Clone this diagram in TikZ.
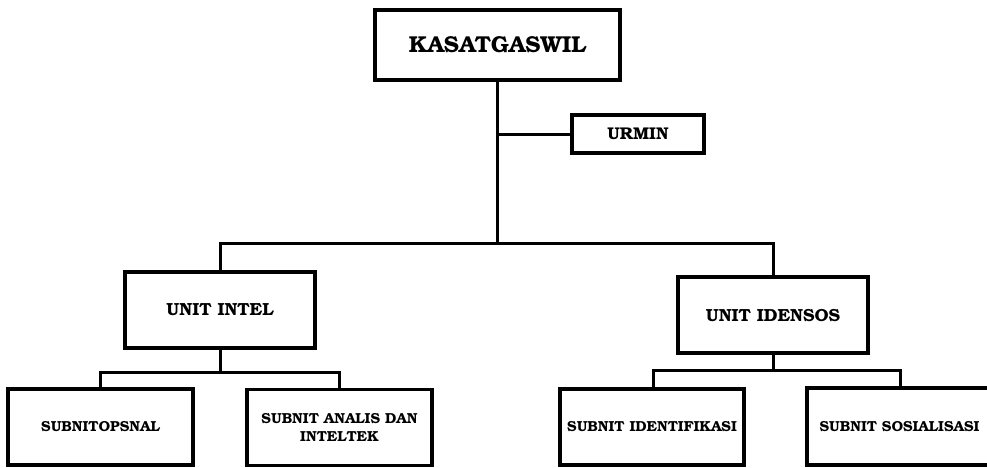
\documentclass[tikz,border=0pt]{standalone}
\usepackage[T1]{fontenc}
\usepackage{bookman}
\usetikzlibrary{shadows}
\begin{document}
\begin{tikzpicture}[x=1pt,y=-1pt,
  box/.style={draw, line width=3.6pt, fill=white, inner sep=0pt, align=center,
    font=\bfseries, drop shadow={opacity=0.25, shadow xshift=1.2pt, shadow yshift=-1.2pt}},
  subbox/.style={box, minimum width=185pt, minimum height=76pt, font=\bfseries\fontsize{14.5}{18}\selectfont},
  unitbox/.style={box, minimum width=190pt, minimum height=76pt, font=\bfseries\fontsize{17.5}{20}\selectfont},
  link/.style={line width=3pt}]
  \useasboundingbox (0,0) rectangle (987,468);
  % head of the task force and its admin unit
  \node[box, minimum width=245pt, minimum height=70pt, font=\bfseries\fontsize{23}{27}\selectfont] (kas) at (497.5,45) {KASATGASWIL};
  \node[box, minimum width=132pt, minimum height=38pt, font=\bfseries\fontsize{17}{20}\selectfont] (urmin) at (638,134) {URMIN};
  % the two units
  \node[unitbox] (intel) at (220,310) {UNIT INTEL};
  \node[unitbox] (idensos) at (773,315) {UNIT IDENSOS};
  % sub-units
  \node[subbox] (opsnal) at (100.5,427) {SUBNITOPSNAL};
  \node[subbox] (analis) at (339.5,427.5) {SUBNIT ANALIS DAN\\INTELTEK};
  \node[subbox, minimum width=184pt] (identif) at (652,427) {SUBNIT IDENTIFIKASI};
  \node[subbox, minimum height=77pt] (sosial) at (899.5,426.5) {SUBNIT SOSIALISASI};
  % connectors
  \coordinate (trunk) at (kas.south |- 0,243);
  \coordinate (sub1) at (intel.south |- 0,372);
  \coordinate (sub2) at (idensos.south |- 0,370);
  \draw[link] (kas.south) -- (trunk);
  \draw[link] (kas.south |- urmin.west) -- (urmin.west);
  \draw[link] (intel.north) |- (trunk) -| (idensos.north);
  \draw[link] (intel.south) -- (sub1);
  \draw[link] (100,389) |- (sub1) -| (339,389);
  \draw[link] (idensos.south) -- (sub2);
  \draw[link] (653,389) |- (sub2) -| (900,388);
\end{tikzpicture}
\end{document}
